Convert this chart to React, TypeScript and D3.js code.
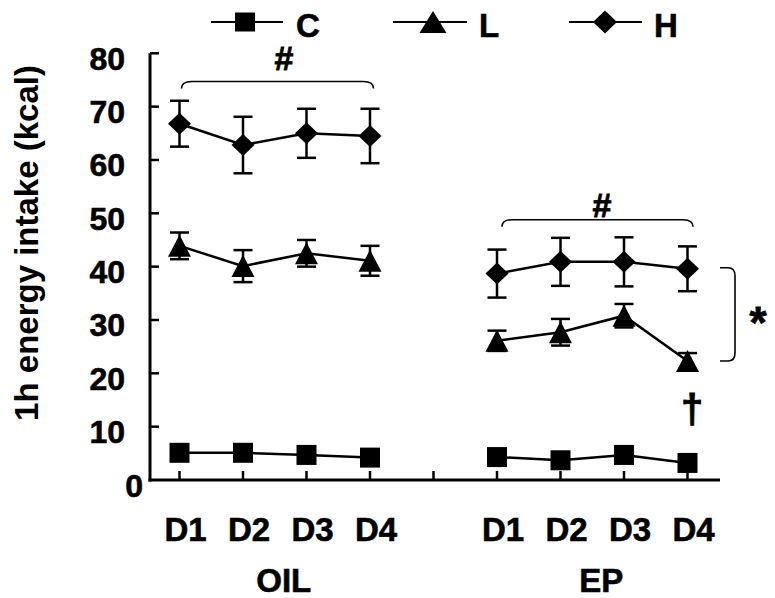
import React from "react";
import * as d3 from "d3";

const dayLabels = ["D1", "D2", "D3", "D4"];
const groupLabels = ["OIL", "EP"];
const yTicks = [0, 10, 20, 30, 40, 50, 60, 70, 80];

// positions on category index axis: OIL 0..3, gap 4, EP 5..8
const oilIdx = [0, 1, 2, 3];
const epIdx = [5, 6, 7, 8];

const cOil = [5.1, 5.1, 4.7, 4.2];
const cOilErr = [0.6, 0.6, 0.6, 0.6];
const cEp = [4.3, 3.7, 4.7, 3.2];
const cEpErr = [0.6, 0.6, 0.6, 0.6];

const lOil = [43.9, 40.1, 42.5, 41.1];
const lOilErr = [2.5, 3.0, 2.5, 2.8];
const lEp = [26.1, 27.7, 30.8, 22.3];
const lEpErr = [1.9, 2.5, 2.2, 1.5];

const hOil = [66.8, 62.8, 65.0, 64.5];
const hOilErr = [4.3, 5.3, 4.6, 5.1];
const hEp = [38.7, 40.9, 40.9, 39.6];
const hEpErr = [4.5, 4.5, 4.6, 4.2];

const FONT = "'Liberation Sans', Arial, Helvetica, sans-serif";

type Seg = { idx: number[]; vals: number[]; errs: number[] };
type Series = { name: string; shape: string; segs: Seg[] };

const series: Series[] = [
  { name: "C", shape: "square", segs: [{ idx: oilIdx, vals: cOil, errs: cOilErr }, { idx: epIdx, vals: cEp, errs: cEpErr }] },
  { name: "L", shape: "triangle", segs: [{ idx: oilIdx, vals: lOil, errs: lOilErr }, { idx: epIdx, vals: lEp, errs: lEpErr }] },
  { name: "H", shape: "diamond", segs: [{ idx: oilIdx, vals: hOil, errs: hOilErr }, { idx: epIdx, vals: hEp, errs: hEpErr }] },
];

function marker(shape: string, cx: number, cy: number, w: number, h: number, key?: string) {
  if (shape === "square") {
    return <rect key={key} x={cx - w / 2} y={cy - h / 2} width={w} height={h} fill="#000" />;
  }
  if (shape === "triangle") {
    return (
      <path key={key} d={`M${cx},${cy - h / 2} L${cx + w / 2},${cy + h / 2} L${cx - w / 2},${cy + h / 2} Z`} fill="#000" />
    );
  }
  return (
    <path key={key} d={`M${cx},${cy - h / 2} L${cx + w / 2},${cy} L${cx},${cy + h / 2} L${cx - w / 2},${cy} Z`} fill="#000" />
  );
}

const markerSize: Record<string, [number, number]> = {
  square: [20, 20],
  triangle: [23, 22],
  diamond: [23, 22],
};
const legendSize: Record<string, [number, number]> = {
  square: [20, 19],
  triangle: [27, 22],
  diamond: [24, 23],
};
const legendPos = [
  { lx1: 211, lx2: 283, mx: 245, tx: 296 },
  { lx1: 393, lx2: 467, mx: 433, tx: 479 },
  { lx1: 569, lx2: 642, mx: 605, tx: 654 },
];

export default function App() {
  const x = d3.scaleLinear().domain([0, 8]).range([179.5, 687.5]);
  const y = d3.scaleLinear().domain([0, 80]).range([480, 53.3]);
  const line = d3
    .line<[number, number]>()
    .x((d) => x(d[0]))
    .y((d) => y(d[1]));

  const axisX0 = 150;
  const axisX1 = 720;
  const tickIdx = d3.range(0, 9);

  const brace = (x1: number, x2: number, yTop: number) =>
    `M${x1},${yTop + 7} Q${x1},${yTop} ${x1 + 10},${yTop} L${x2 - 10},${yTop} Q${x2},${yTop} ${x2},${yTop + 7}`;

  const oilBraceY = y(74.7);
  const epBraceY = y(48.8);
  const brTop = y(hEp[3]) - 1;
  const brBot = y(lEp[3]);

  return (
    <svg
      width={775}
      height={598}
      style={{ position: "absolute", left: 0, top: 0, background: "#fff" }}
      fontFamily={FONT}
    >
      <rect x={0} y={0} width={775} height={598} fill="#fff" />
      {/* Y axis */}
      <line x1={axisX0} x2={axisX0} y1={y(0) + 1.5} y2={y(80)} stroke="#000" strokeWidth={3} />
      {yTicks.map((t) => (
        <g key={"yt" + t}>
          {t > 0 && <line x1={axisX0} x2={axisX0 + 9} y1={y(t)} y2={y(t)} stroke="#000" strokeWidth={2.5} />}
          <text
            x={t === 0 ? 143 : 125}
            y={y(t) + 16.5}
            textAnchor="end"
            fontSize={32}
            fontWeight="bold"
            stroke="#000"
            strokeWidth={0.6}
          >
            {t}
          </text>
        </g>
      ))}
      {/* X axis */}
      <line x1={axisX0 - 1.5} x2={axisX1} y1={y(0)} y2={y(0)} stroke="#000" strokeWidth={3} />
      {tickIdx.map((i) => (
        <line key={"xt" + i} x1={x(i)} x2={x(i)} y1={y(0)} y2={y(0) - 9} stroke="#000" strokeWidth={2.5} />
      ))}
      {[oilIdx, epIdx].map((idxs, g) =>
        idxs.map((i, k) => (
          <text key={"xl" + g + k} x={x(i) + 6} y={541} textAnchor="middle" fontSize={33} fontWeight="bold" stroke="#000" strokeWidth={0.6}>
            {dayLabels[k]}
          </text>
        ))
      )}
      {groupLabels.map((gl, g) => (
        <text
          key={"gl" + gl}
          x={(x(g === 0 ? oilIdx[0] : epIdx[0]) + x(g === 0 ? oilIdx[3] : epIdx[3])) / 2 + 9}
          y={592}
          textAnchor="middle"
          fontSize={33}
          fontWeight="bold"
          stroke="#000"
          strokeWidth={0.6}
        >
          {gl}
        </text>
      ))}
      {/* Y title */}
      <text
        transform={`translate(38,${243}) rotate(-90)`}
        textAnchor="middle"
        fontSize={33}
        fontWeight="bold"
      >
        1h energy intake (kcal)
      </text>

      {/* series */}
      {series.map((s) =>
        s.segs.map((seg, si) => {
          const pts: [number, number][] = seg.idx.map((i, k) => [i, seg.vals[k]]);
          const [mw, mh] = markerSize[s.shape];
          return (
            <g key={s.name + si}>
              {seg.idx.map((i, k) => {
                const cx = x(i);
                const top = y(seg.vals[k] + seg.errs[k]);
                const bot = y(seg.vals[k] - seg.errs[k]);
                return (
                  <g key={"e" + k} stroke="#000" strokeWidth={2.5}>
                    <line x1={cx} x2={cx} y1={top} y2={bot} />
                    <line x1={cx - 9.5} x2={cx + 9.5} y1={top} y2={top} />
                    <line x1={cx - 9.5} x2={cx + 9.5} y1={bot} y2={bot} />
                  </g>
                );
              })}
              <path d={line(pts) || ""} fill="none" stroke="#000" strokeWidth={2.5} />
              {seg.idx.map((i, k) => marker(s.shape, x(i), y(seg.vals[k]), mw, mh, "m" + k))}
            </g>
          );
        })
      )}

      {/* annotations */}
      <path d={brace(x(0) + 2, x(3) + 3.5, oilBraceY)} fill="none" stroke="#000" strokeWidth={1.6} />
      <text x={284} y={70} textAnchor="middle" fontSize={34} fontWeight="bold" stroke="#000" strokeWidth={0.8}>#</text>
      <path d={brace(x(5) + 5, x(8) + 5.5, epBraceY)} fill="none" stroke="#000" strokeWidth={1.6} />
      <text x={602} y={217} textAnchor="middle" fontSize={34} fontWeight="bold" stroke="#000" strokeWidth={0.8}>#</text>
      <path
        d={`M720,${brTop} L728,${brTop} Q735,${brTop} 735,${brTop + 8} L735,${brBot - 8} Q735,${brBot} 728,${brBot} L720,${brBot}`}
        fill="none"
        stroke="#000"
        strokeWidth={1.6}
      />
      <text x={758} y={338} textAnchor="middle" fontSize={44} fontWeight="bold" stroke="#000" strokeWidth={0.8}>*</text>
      <text x={692} y={423} textAnchor="middle" fontSize={40} fontWeight="bold" stroke="#000" strokeWidth={0.8}>†</text>

      {/* legend */}
      {series.map((s, i) => {
        const p = legendPos[i];
        const [w, h] = legendSize[s.shape];
        return (
          <g key={"lg" + s.name}>
            <line x1={p.lx1} x2={p.lx2} y1={22} y2={22} stroke="#000" strokeWidth={2.2} />
            {marker(s.shape, p.mx, 22, w, h)}
            <text x={p.tx} y={37} fontSize={33} fontWeight="bold" stroke="#000" strokeWidth={0.6}>
              {s.name}
            </text>
          </g>
        );
      })}
    </svg>
  );
}
